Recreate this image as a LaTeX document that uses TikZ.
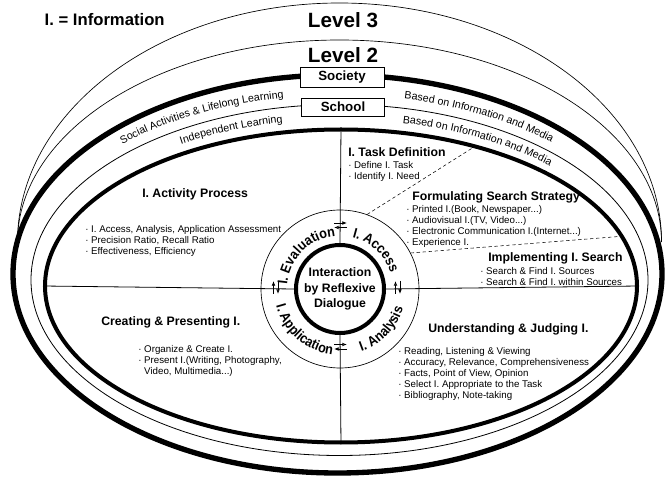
\documentclass[tikz,border=0pt]{standalone}
\usepackage{fontspec}
\setmainfont{Liberation Sans}
\newfontfamily\condfam[FakeStretch=0.9]{Liberation Sans}
\usetikzlibrary{shapes.geometric,arrows.meta,decorations.text}

\newcommand\bandfnt{\fontsize{8}{9.6}\selectfont}
\newcommand\ringfnt{\condfam\fontsize{10.5}{12}\selectfont\bfseries}
\newcommand\itm{\textperiodcentered\ }

\begin{document}
\begin{tikzpicture}[x=0.75pt,y=0.75pt,
  oval/.style={ellipse, draw, inner sep=0pt},
  head/.style={anchor=west, inner sep=0pt, font=\fontsize{9.2}{11}\selectfont\bfseries},
  items/.style={anchor=north west, inner sep=0pt, align=left, font=\fontsize{7.3}{8.2}\selectfont},
  tag/.style={draw, fill=white, inner sep=0pt, line width=0.6pt, font=\fontsize{10}{12}\selectfont\bfseries},
  level/.style={font=\fontsize{15.5}{18}\selectfont\bfseries},
  fwd/.style={-{Latex[length=3.5pt,width=2.8pt]}, line width=0.6pt},
  bwd/.style={-{Latex[open,length=3.5pt,width=2.8pt]}, line width=0.6pt},
  guide/.style={dash pattern=on 2.5pt off 2pt, line width=0.4pt}
]
\useasboundingbox (0,0) rectangle (665,479);

%Level arcs
\coordinate (lv) at (339.5,237);
\draw[line width=0.5pt] (lv) ++(180:322 and 239) arc[start angle=180, end angle=0, x radius=322, y radius=239];
\draw[line width=0.5pt] (lv) ++(180:322 and 202) arc[start angle=180, end angle=0, x radius=322, y radius=202];

%Ellipses
\node[oval, line width=4pt, minimum width=486.75pt, minimum height=298.5pt] (societyEl) at (337.5,205) {};
\node[oval, line width=0.6pt, minimum width=462.75pt, minimum height=263.25pt] (schoolEl) at (339.5,199) {};
\node[oval, line width=3pt, minimum width=444pt, minimum height=234.75pt] (learnEl) at (341,193) {};

%Centre
\node[circle, draw, line width=0.5pt, minimum size=118.5pt, inner sep=0pt] (ring) at (340,190) {};
\node[circle, draw, line width=3pt, minimum size=66pt, inner sep=0pt, align=center, font=\fontsize{9.2}{11.6}\selectfont\bfseries] (core) at (340,190) {Interaction\\by Reflexive\\Dialogue};

%Quadrant lines
\draw[line width=0.6pt] (learnEl.north) -- (core.north);
\draw[line width=0.6pt] (core.south) -- (learnEl.south);
\draw[line width=0.6pt] (learnEl.west) -- (core.west);
\draw[line width=0.6pt] (core.east) -- (learnEl.east);

%Dashed lines
\draw[guide] (ring.70) -- (learnEl.46);
\draw[guide] (ring.27) -- (learnEl.10);

%Small arrows
\draw[fwd] ([shift={(-6,66)}]core.center) -- ([shift={(7,66)}]core.center);
\draw[bwd] ([shift={(7,61.5)}]core.center) -- ([shift={(-6,61.5)}]core.center);
\draw[bwd] ([shift={(55.5,-5)}]core.center) -- ([shift={(55.5,8)}]core.center);
\draw[fwd] ([shift={(60,8)}]core.center) -- ([shift={(60,-5)}]core.center);
\draw[fwd] ([shift={(-66.5,-5)}]core.center) -- ([shift={(-66.5,8)}]core.center);
\draw[bwd] ([shift={(-62,8)}]core.center) -- ([shift={(-62,-5)}]core.center);
\draw[fwd] ([shift={(7,-60)}]core.center) -- ([shift={(-6,-60)}]core.center);
\draw[bwd] ([shift={(-6,-55.5)}]core.center) -- ([shift={(7,-55.5)}]core.center);

%Ring texts
\path[decorate, decoration={text along path, text align=center, text={|\ringfnt|I. Access}}] (core.center) ++(88:53) arc[start angle=88, end angle=6, radius=53];
\path[decorate, decoration={text along path, text align=center, text={|\ringfnt|I. Evaluation}}] (core.center) ++(185:53) arc[start angle=185, end angle=85, radius=53];
\path[decorate, decoration={text along path, text align=center, text={|\ringfnt|I. Application}}] (core.center) ++(182:66) arc[start angle=182, end angle=276, radius=66];
\path[decorate, decoration={text along path, text align=center, text={|\ringfnt|I. Analysis}}] (core.center) ++(270:66) arc[start angle=270, end angle=362, radius=66];

%Band texts
\coordinate (bandA) at (338.5,202);
\coordinate (bandB) at (340,196);
\path[decorate, decoration={text along path, text align=right, text={|\bandfnt|Social Activities {\&} Lifelong Learning}}] (bandA) ++(170:316 and 182) arc[start angle=170, end angle=100, x radius=316, y radius=182];
\path[decorate, decoration={text along path, text align=left, text={|\bandfnt|Based on Information and Media}}] (bandA) ++(78:316 and 182) arc[start angle=78, end angle=10, x radius=316, y radius=182];
\path[decorate, decoration={text along path, text align=right, text={|\bandfnt|Independent Learning}}] (bandB) ++(165:301 and 163.5) arc[start angle=165, end angle=101, x radius=301, y radius=163.5];
\path[decorate, decoration={text along path, text align=left, text={|\bandfnt|Based on Information and Media}}] (bandB) ++(78:301 and 163.5) arc[start angle=78, end angle=5, x radius=301, y radius=163.5];

%Boxes
\node[tag, minimum width=63pt, minimum height=15pt] (societyBox) at (342,402) {Society};
\node[tag, minimum width=62pt, minimum height=13.5pt] (schoolBox) at (343,372) {School};

% Text Node
\node[level] (lvl3) at (343,459) {Level 3};
\node[level] (lvl2) at (343,424) {Level 2};
\node[anchor=west, font=\fontsize{12.5}{15}\selectfont\bfseries] (legend) at (40,459) {I. = Information};

% Text Node
\node[head] (actH) at (142,285) {I. Activity Process};
\node[items] (actL) at (85,253.5) {\itm I. Access, Analysis, Application Assessment\\\itm Precision Ratio, Recall Ratio\\\itm Effectiveness, Efficiency};
\node[head] (taskH) at (348,327) {I. Task Definition};
\node[items] (taskL) at (348,317.5) {\itm Define I. Task\\\itm Identify I. Need};
\node[head] (stratH) at (412,282) {Formulating Search Strategy};
\node[items] (stratL) at (406,273.5) {\itm Printed I.(Book, Newspaper...)\\\itm Audiovisual I.(TV, Video...)\\\itm Electronic Communication I.(Internet...)\\\itm Experience I.};
\node[head] (searchH) at (488,221) {Implementing I. Search};
\node[items] (searchL) at (480,211.5) {\itm Search \& Find I. Sources\\\itm Search \& Find I. within Sources};
\node[head] (createH) at (101,157) {Creating \& Presenting I.};
\node[items] (createL) at (138,133.5) {\itm Organize \& Create I.\\\itm Present I.(Writing, Photography,\\\hphantom{\itm}Video, Multimedia...)};
\node[head] (judgeH) at (428,150) {Understanding \& Judging I.};
\node[items] (judgeL) at (398,131.5) {\itm Reading, Listening \& Viewing\\\itm Accuracy, Relevance, Comprehensiveness\\\itm Facts, Point of View, Opinion\\\itm Select I. Appropriate to the Task\\\itm Bibliography, Note-taking};

\end{tikzpicture}
\end{document}
